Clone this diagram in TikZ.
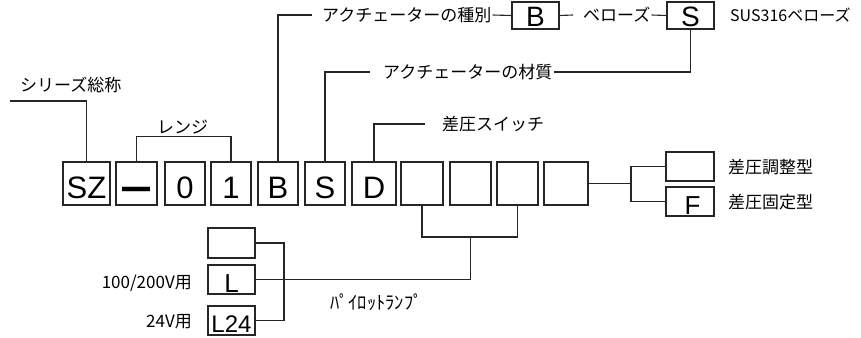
\documentclass[tikz,border=0pt]{standalone}
\usepackage{fontspec}
\setmainfont{Liberation Sans}
\newfontfamily\jp{Noto Sans CJK JP}
\tikzset{
  cbox/.style={draw=black!85, line width=1.1pt, inner sep=0pt, minimum height=43pt, align=center},
  big/.style={font=\fontsize{31}{31}\selectfont, text height=29pt, text depth=0pt},
  mid/.style={font=\fontsize{28}{28}\selectfont},
  lbl/.style={font=\jp\fontsize{17}{17}\selectfont, inner sep=0pt, anchor=west},
  lblr/.style={font=\jp\fontsize{17}{17}\selectfont, inner sep=0pt, anchor=east},
  conn/.style={draw=black!85, line width=1.1pt},
}
\begin{document}
\begin{tikzpicture}[x=1pt,y=-1pt]
\useasboundingbox (0,0) rectangle (861,337);
% main row
\node[cbox,big,minimum width=47pt] (sz) at (86.5,183.5) {SZ};
\node[cbox,minimum width=41pt,font=\bfseries\fontsize{28}{28}\selectfont,text height=36pt,text depth=0pt] (dash) at (136.5,183.5) {\scalebox{1}[1.6]{—}};
\node[cbox,big,minimum width=40pt] (r0) at (185,183.5) {0};
\node[cbox,big,minimum width=40pt] (r1) at (231,183.5) {1};
\node[cbox,big,minimum width=40pt] (b) at (278,183.5) {B};
\node[cbox,big,minimum width=40pt] (s) at (325,183.5) {S};
\node[cbox,big,minimum width=44pt] (d) at (374,183.5) {D};
\node[cbox,minimum width=42pt] (e1) at (422,183.5) {};
\node[cbox,minimum width=41pt] (e2) at (470.5,183.5) {};
\node[cbox,minimum width=41pt] (e3) at (517.5,183.5) {};
\node[cbox,minimum width=44pt] (e4) at (566,183.5) {};
% right options
\node[cbox,minimum width=48pt,minimum height=29pt] (adj) at (690,166.5) {};
\node[cbox,minimum width=48pt,minimum height=29pt,font=\fontsize{26}{26}\selectfont,text height=25pt,text depth=0pt] (fix) at (690,201.5) {\hspace*{5pt}F};
\node[lbl] (tadj) at (728,167) {差圧調整型};
\node[lbl] (tfix) at (728,202) {差圧固定型};
% top options
\node[cbox,minimum width=47pt,minimum height=27pt,mid,text height=23pt,text depth=0pt] (bt) at (535.5,15.5) {B};
\node[cbox,minimum width=47pt,minimum height=27pt,mid,text height=23pt,text depth=0pt] (st) at (690.5,15.5) {S};
\node[lbl] (t1) at (322,15) {アクチェーターの種別};
\node[lbl] (t2) at (583,15) {ベローズ};
\node[lbl,font=\jp\fontsize{16}{16}\selectfont] (t5) at (730,15) {SUS316ベローズ};
\node[lbl] (t3) at (383,72) {アクチェーターの材質};
\node[lbl] (t4) at (442,124) {差圧スイッチ};
\node[lbl] (tsz) at (20,85) {シリーズ総称};
\node[lbl] (trange) at (157,127) {レンジ};
% lamps
\node[cbox,minimum width=47pt,minimum height=30pt] (lamp0) at (231.5,243) {};
\node[cbox,minimum width=47pt,minimum height=29pt,font=\fontsize{26}{26}\selectfont,text height=25pt,text depth=0pt] (lampL) at (231.5,279.5) {L};
\node[cbox,minimum width=47pt,minimum height=29pt,font=\fontsize{24}{24}\selectfont,text height=24pt,text depth=0pt] (lampL24) at (231.5,320.5) {L24};
\node[lblr] (t100) at (192,283) {100/200V用};
\node[lblr] (t24) at (192,322) {24V用};
\node[lbl,font=\jp\fontsize{18.5}{18.5}\selectfont] (tpl) at (330,302) {ﾊﾟｲﾛｯﾄﾗﾝﾌﾟ};
% connectors
\coordinate (szl) at (10,101);
\draw[conn] (szl) -| (sz.north);
\draw[conn] (dash.north) -- ++(0,-25) -| (r1.north);
\draw[conn] (b.north) |- ([xshift=-10pt]t1.west);
\draw[conn] ([xshift=1pt]t1.east) -- (bt.west);
\draw[conn] (bt.east) -- ([xshift=-10pt]t2.west);
\draw[conn] ([xshift=1pt]t2.east) -- (st.west);
\draw[conn] (s.north) |- ([xshift=-13pt]t3.west);
\draw[conn] ([xshift=1pt]t3.east) -| (st.south);
\draw[conn] (d.north) |- ([xshift=-17pt]t4.west);
\coordinate (fk) at (631,183.5);
\draw[conn] (e4.east) -- (fk);
\draw[conn] (adj.west) -| (fk) |- (fix.west);
\coordinate (mid) at (470.5,237);
\draw[conn] (e1.south) |- (mid) -| (e3.south);
\draw[conn] (mid) |- (lampL.east);
\coordinate (lk) at (284,282);
\draw[conn] (lamp0.east) -| (lk) |- (lampL24.east);
\end{tikzpicture}
\end{document}
